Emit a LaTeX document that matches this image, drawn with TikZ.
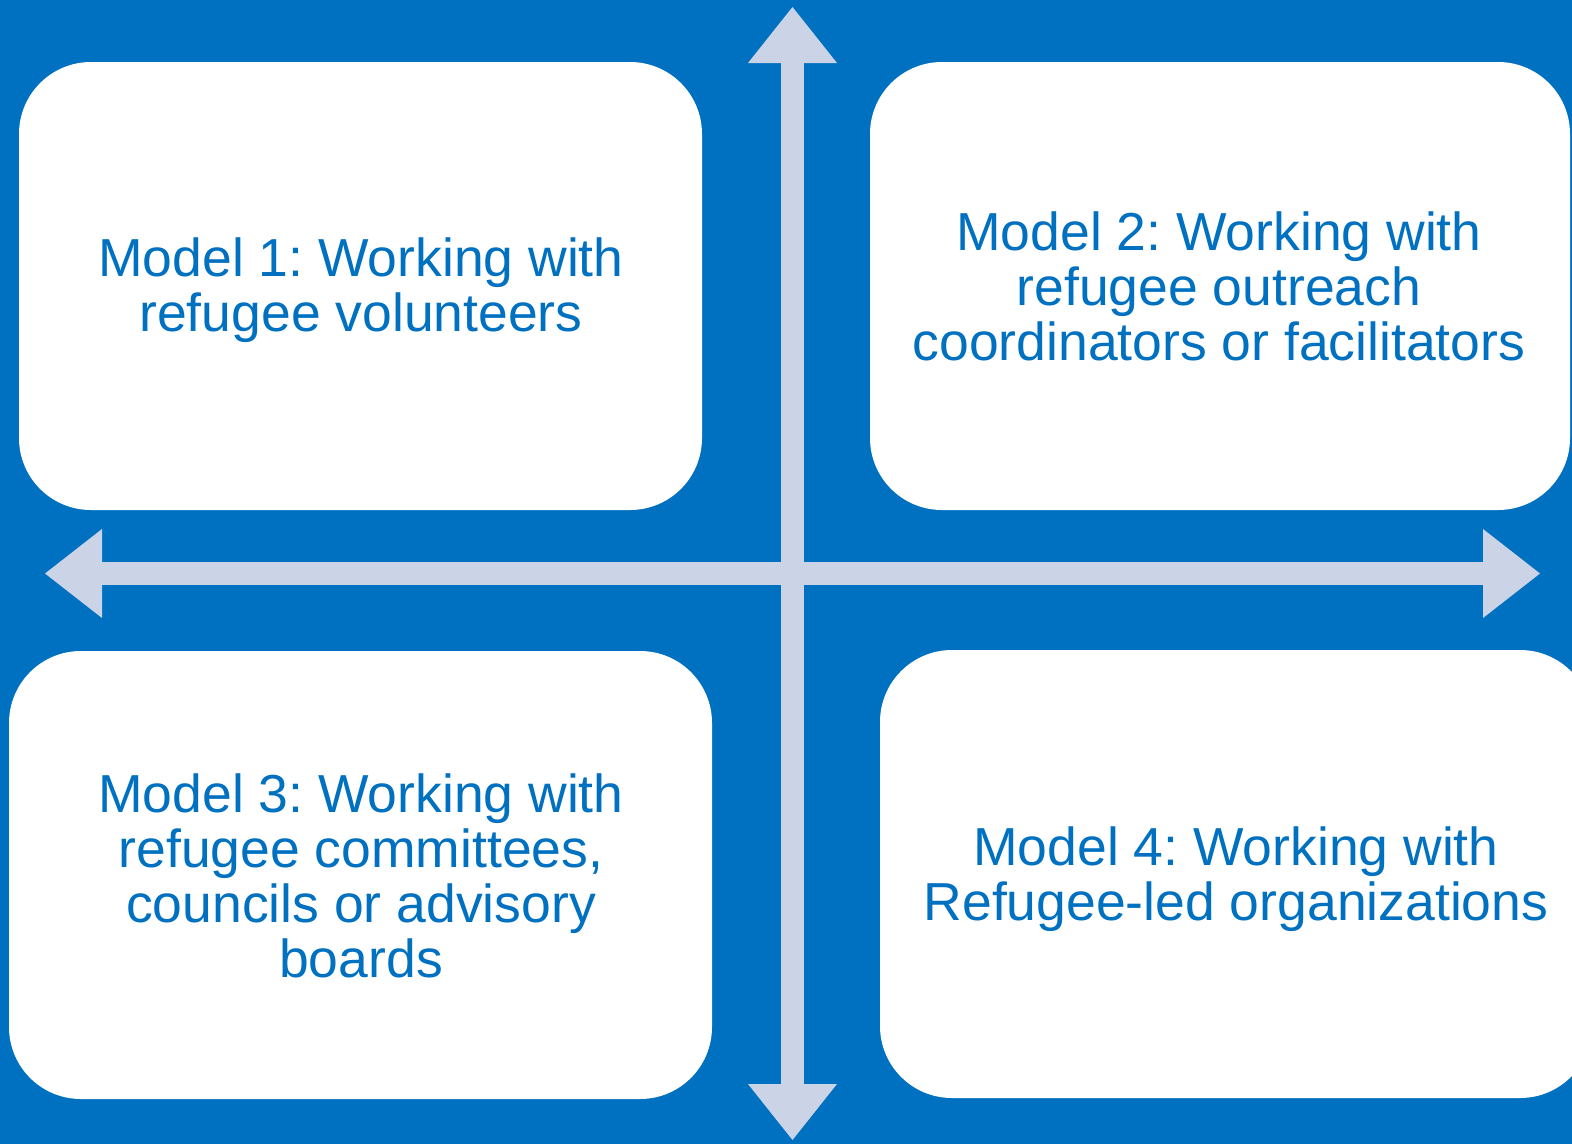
\documentclass[tikz,border=0pt]{standalone}
\usepackage{fontspec}
\setmainfont{Liberation Sans}
\definecolor{bgblue}{HTML}{0070C0}
\definecolor{axiscol}{HTML}{CBD3E7}
\begin{document}
\frenchspacing
\begin{tikzpicture}[x=1pt,y=-1pt,
  modelbox/.style={fill=white, rounded corners=72pt, inner sep=0pt},
  modeltext/.style={align=center, text=bgblue,
    font=\fontsize{53.5}{55}\selectfont, inner sep=0pt},
  axisfill/.style={fill=axiscol}]
\useasboundingbox (0,0) rectangle (1572,1144);
\clip (0,0) rectangle (1572,1144);
\fill[bgblue] (0,0) rectangle (1572,1144);
% boxes
\node[modelbox, minimum width=683pt, minimum height=448pt] (m1) at (360.5,286) {};
\node[modelbox, minimum width=700pt, minimum height=448pt] (m2) at (1220,286) {};
\node[modelbox, minimum width=703pt, minimum height=448pt] (m3) at (360.5,875) {};
\node[modelbox, minimum width=712pt, minimum height=448pt] (m4) at (1236,874) {};
% texts
\node[modeltext] (t1) at (361,290)
  {Model 1: Working with\\refugee volunteers};
\node[modeltext] (t2) at (1219,286)
  {Model 2: Working with\\refugee outreach\\coordinators or facilitators};
\node[modeltext] (t3) at (361,876)
  {Model 3: Working with\\refugee committees,\\councils or advisory\\boards};
\node[modeltext] (t4) at (1236,879)
  {Model 4: Working with\\Refugee-led organizations};
% axes
\coordinate (C) at (792.5,573.5);
\coordinate (N) at (792.5,7);
\coordinate (S) at (792.5,1140);
\coordinate (W) at (45,573.5);
\coordinate (E) at (1540,573.5);
\fill[axisfill] (102,562) rectangle (1483,585);
\fill[axisfill] (781,63) rectangle (804,1084);
\fill[axisfill] (748,63) -- (N) -- (837,63) -- cycle;
\fill[axisfill] (748,1084) -- (S) -- (837,1084) -- cycle;
\fill[axisfill] (102,529) -- (W) -- (102,618) -- cycle;
\fill[axisfill] (1483,529) -- (E) -- (1483,618) -- cycle;
\end{tikzpicture}
\end{document}
